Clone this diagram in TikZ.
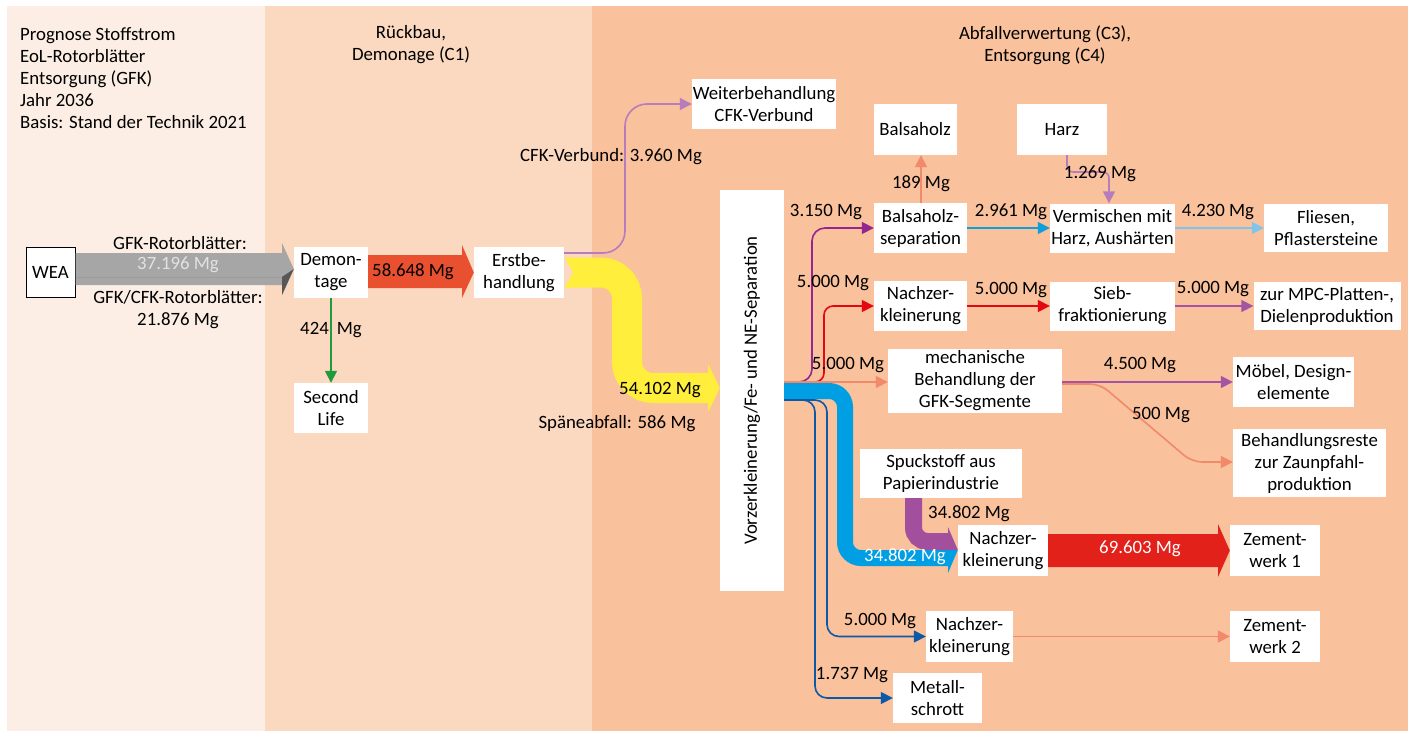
\documentclass[tikz,border=0pt]{standalone}
\usepackage{fontspec}
\setmainfont{Carlito}
\usetikzlibrary{arrows.meta,calc}
\definecolor{pone}{HTML}{FCEEE4}
\definecolor{ptwo}{HTML}{FBD9C0}
\definecolor{pthree}{HTML}{F9C19C}
\definecolor{grayL}{HTML}{A6A6A6}
\definecolor{grayD}{HTML}{575757}
\definecolor{grayT}{HTML}{E2E2E2}
\definecolor{orr}{HTML}{E9502F}
\definecolor{yel}{HTML}{FFEE3B}
\definecolor{lpurple}{HTML}{B77CBC}
\definecolor{purpleA}{HTML}{93278F}
\definecolor{redA}{HTML}{E30613}
\definecolor{salmon}{HTML}{F1896A}
\definecolor{cyanA}{HTML}{009FE3}
\definecolor{dblue}{HTML}{0E58A8}
\definecolor{greenA}{HTML}{1F9A3D}
\definecolor{pband}{HTML}{A24F9D}
\definecolor{bigred}{HTML}{E2211B}
\definecolor{cyanB}{HTML}{0FA0DC}
\definecolor{lblue}{HTML}{7EC4EC}
\definecolor{purpleB}{HTML}{A553A3}
\begin{document}
\begin{tikzpicture}[x=1pt,y=-1pt,
  font=\fontsize{18.8}{22}\selectfont,
  box/.style={fill=white, align=center, inner sep=0pt},
  flow/.style={line width=1.6pt, -{Triangle[length=12pt,width=12pt]}},
  lbl/.style={inner sep=0pt, align=center},
]
\useasboundingbox (0,0) rectangle (1414,731);
\fill[white] (0,0) rectangle (1414,731);
\fill[pone] (7,6) rectangle (265,731);
\fill[ptwo] (265,6) rectangle (592,731);
\fill[pthree] (592,6) rectangle (1408,731);

% headers
\node[lbl, align=left, anchor=north west] (hdr1) at (20,27.5)
  {Prognose Stoffstrom\\EoL-Rotorblätter\\Entsorgung (GFK)\\Jahr 2036\\Basis: Stand der Technik 2021};
\node[lbl] (hdr2) at (411,45) {Rückbau,\\Demonage (C1)};
\node[lbl] (hdr3) at (1045,45) {Abfallverwertung (C3),\\Entsorgung (C4)};

% boxes
\node[box, draw=black, line width=1pt, minimum width=49pt, minimum height=50pt] (wea) at (50.5,272) {WEA};
\node[box, minimum width=74pt, minimum height=51pt] (dem) at (331,272.5) {Demon-\\tage};
\node[box, minimum width=90pt, minimum height=51pt] (erst) at (519,272.5) {Erstbe-\\handlung};
\node[box, minimum width=74pt, minimum height=50pt] (sl) at (331,408) {Second\\Life};
\node[box, minimum width=144pt, minimum height=50pt] (wb) at (764,104) {Weiterbehandlung\\CFK-Verbund};
\node[box, minimum width=64pt, minimum height=401pt] (vz) at (752,390.5) {\rotatebox{90}{Vorzerkleinerung/Fe- und NE-Separation}};
\node[box, minimum width=83pt, minimum height=51pt] (bh) at (915,129.5) {Balsaholz};
\node[box, minimum width=90pt, minimum height=51pt] (harz) at (1062,129.5) {Harz};
\node[box, minimum width=93pt, minimum height=50pt] (bs) at (920.5,228) {Balsaholz-\\separation};
\node[box, minimum width=125pt, minimum height=49pt] (verm) at (1112.5,228) {Vermischen mit\\Harz, Aushärten};
\node[box, minimum width=124pt, minimum height=48pt] (fl) at (1326,228) {Fliesen,\\Pflastersteine};
\node[box, minimum width=93pt, minimum height=50pt] (nzone) at (920.5,306) {Nachzer-\\kleinerung};
\node[box, minimum width=125pt, minimum height=49pt] (sieb) at (1112.5,306) {Sieb-\\fraktionierung};
\node[box, minimum width=147pt, minimum height=48pt] (mpc) at (1327,306) {zur MPC-Platten-,\\Dielenproduktion};
\node[box, minimum width=174pt, minimum height=64pt] (mech) at (975,381) {mechanische\\Behandlung der\\GFK-Segmente};
\node[box, minimum width=121pt, minimum height=50pt] (moebel) at (1293.5,382) {Möbel, Design-\\elemente};
\node[box, minimum width=153pt, minimum height=68pt] (rest) at (1309.5,463) {Behandlungsreste\\zur Zaunpfahl-\\produktion};
\node[box, minimum width=162pt, minimum height=49pt] (spuck) at (941,473.5) {Spuckstoff aus\\Papierindustrie};
\node[box, minimum width=90pt, minimum height=51pt] (nztwo) at (1003,550.5) {Nachzer-\\kleinerung};
\node[box, minimum width=90pt, minimum height=51pt] (zwone) at (1275,550.5) {Zement-\\werk 1};
\node[box, minimum width=87pt, minimum height=51pt] (nzthree) at (969.5,636.5) {Nachzer-\\kleinerung};
\node[box, minimum width=90pt, minimum height=51pt] (zwtwo) at (1275,636.5) {Zement-\\werk 2};
\node[box, minimum width=89pt, minimum height=50pt] (ms) at (937.5,698) {Metall-\\schrott};

% gray split arrow WEA -> Demontage
\fill[grayL] (wea.east |- 0,253) -- (282,253) -- (282,243) -- (dem.west |- 0,269) -- (282,295) -- (282,285) -- (wea.east |- 0,285) -- cycle;
\fill[grayD] (wea.east |- 0,277) -- (282,277) -- (282,295) -- (dem.west |- 0,269) -- (282,277) -- cycle;
\node[lbl] (lgfk) at (180,243) {GFK-Rotorblätter:};
\node[lbl, text=grayT] (lgfkv) at (178,265) {37.196 Mg};
\node[lbl] (lcfk) at (178,310) {GFK/CFK-Rotorblätter:\\21.876 Mg};

% red-orange arrow Demontage -> Erstbehandlung
\fill[orr] (dem.east |- 0,255) -- (462,255) -- (462,245) -- (erst.west) -- (462,298) -- (462,288) -- (dem.east |- 0,288) -- cycle;
\node[lbl] (l58) at (413,272) {58.648 Mg};

% green Second Life
\node[lbl] (l424) at (331,330) {424\hspace{8pt}Mg};
\draw[flow, greenA] (dem.south) -- (sl.north);

% CFK line
\draw[flow, lpurple, rounded corners=22pt] (erst.east |- 0,253) -- (625,253) -- (625,104) -- (wb.west);
\node[lbl] (lcfkv) at (611,157) {CFK-Verbund: 3.960 Mg};

% yellow band
\draw[yel, line width=30pt, rounded corners=26pt] (erst.east) -- (627,272.5) -- (627,388) -- (709,388);
\fill[yel] (708,364) -- (vz.west |- 0,388) -- (708,412) -- cycle;
\fill[ptwo] (erst.east |- 0,257) -- (573,272.5) -- (erst.east |- 0,288) -- cycle;
\node[lbl] (l54) at (660,390) {54.102 Mg};
\node[lbl] (lspan) at (617,424) {Späneabfall: 586 Mg};

% cyan band and Spuckstoff band
\draw[cyanA, line width=16pt, rounded corners=16pt] (vz.east |- 0,391) -- (845,391) -- (845,558) -- (949,558);
\draw[pband, line width=17pt, rounded corners=14pt] (spuck.south -| 913.5,0) -- (913.5,541.5) -- (949,541.5);
\fill[pband] (948,527) -- (nztwo.west |- 0,550) -- (948,550) -- cycle;
\fill[cyanA] (948,550) -- (nztwo.west |- 0,550) -- (948,573) -- cycle;
\node[lbl, text=white] (l348w) at (905,557) {34.802 Mg};
\node[lbl] (l348) at (969,514) {34.802 Mg};

% thin branches from Vorzerkleinerung
\draw[flow, purpleA, rounded corners=13pt] (vz.east |- 0,382) -- (812,382) -- (812,228) -- (bs.west);
\draw[flow, redA, rounded corners=9pt] (vz.east |- 0,382) -- (824,382) -- (824,306) -- (nzone.west);
\draw[flow, salmon] (vz.east |- 0,382) -- (mech.west |- 0,382);
\draw[flow, dblue, rounded corners=12pt] (vz.east |- 0,400) -- (815,400) -- (815,698) -- (ms.west);
\draw[flow, dblue, rounded corners=12pt] (vz.east |- 0,400) -- (827,400) -- (827,636.5) -- (nzthree.west);
\node[lbl] (l3150) at (826,212) {3.150 Mg};
\node[lbl] (l5a) at (833,283) {5.000 Mg};
\node[lbl] (l5b) at (848,365) {5.000 Mg};
\node[lbl] (l5c) at (880,621) {5.000 Mg};
\node[lbl] (l1737) at (852,675) {1.737 Mg};

% big red arrow
\fill[bigred] (nztwo.east |- 0,534) -- (1218,534) -- (1218,524) -- (zwone.west) -- (1218,577) -- (1218,567) -- (nztwo.east |- 0,567) -- cycle;
\node[lbl, text=white] (l69) at (1140,549) {69.603 Mg};

% Nachzerkleinerung 3 -> Zementwerk 2
\draw[flow, salmon] (nzthree.east) -- (zwtwo.west);

% Balsaholz group
\draw[flow, salmon] (bs.north -| 921,0) -- (bh.south -| 921,0);
\node[lbl] (l189) at (921,184) {189 Mg};
\draw[flow, cyanB] (bs.east) -- (verm.west);
\node[lbl] (l2961) at (1011,212) {2.961 Mg};
\draw[flow, lblue] (verm.east) -- (fl.west);
\node[lbl] (l4230) at (1218,212) {4.230 Mg};
\draw[flow, lpurple, rounded corners=6pt] (harz.south -| 1067,0) -- (1067,172) -- (1109,172) -- (verm.north -| 1109,0);
\node[lbl] (l1269) at (1100,174) {1.269 Mg};

% Nachzerkleinerung 1 group
\draw[flow, redA] (nzone.east) -- (sieb.west);
\node[lbl] (l5d) at (1011,290) {5.000 Mg};
\draw[flow, purpleB] (sieb.east) -- (mpc.west);
\node[lbl] (l5e) at (1213,289) {5.000 Mg};

% mechanische Behandlung group
\draw[flow, salmon, rounded corners=10pt] (mech.east |- 0,384) -- (1100,384) -- (1192,462) -- (rest.west |- 0,462);
\draw[flow, purpleB] (mech.east |- 0,382) -- (moebel.west |- 0,382);
\node[lbl] (l4500) at (1140,365) {4.500 Mg};
\node[lbl] (l500) at (1161,415) {500 Mg};
\end{tikzpicture}
\end{document}
